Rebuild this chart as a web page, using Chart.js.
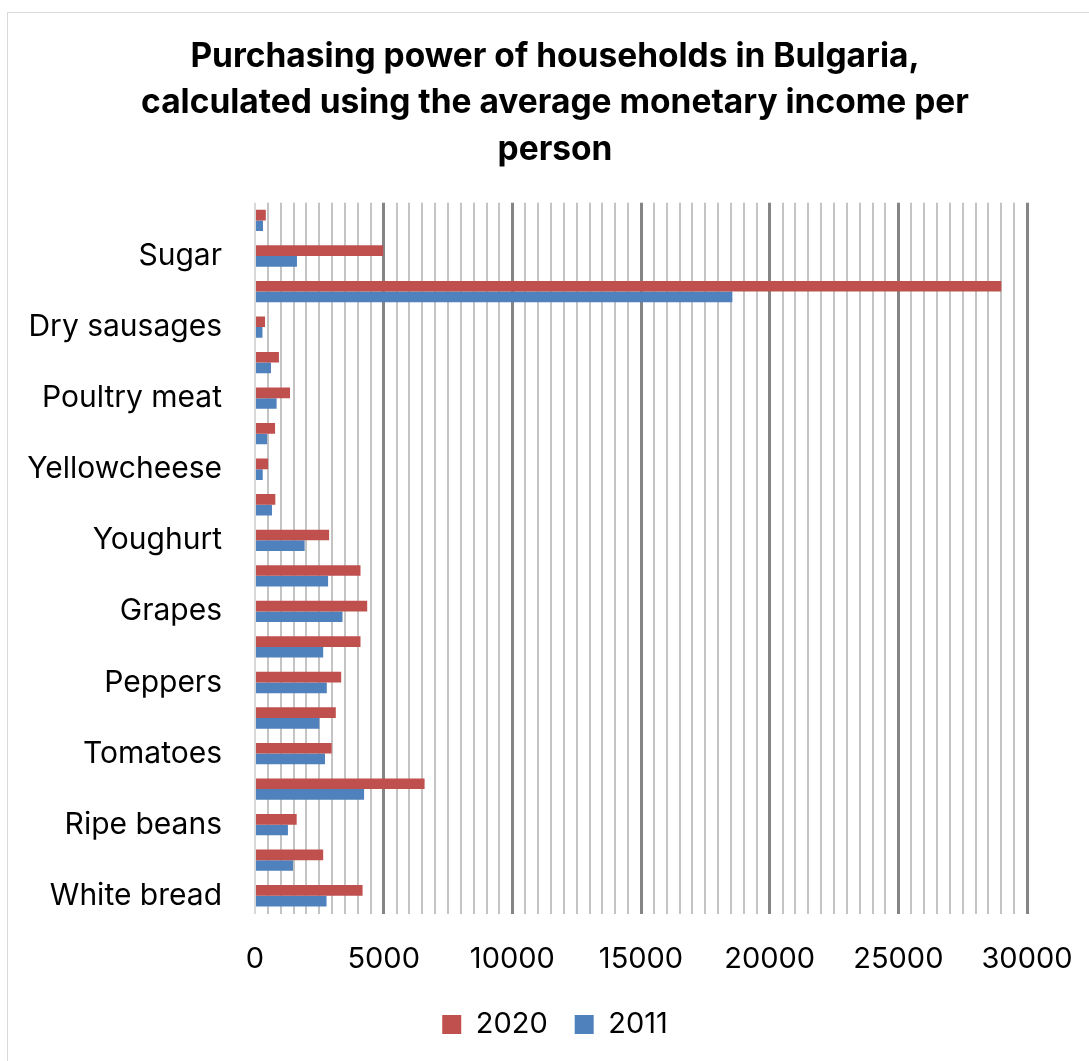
<!DOCTYPE html>
<html>
<head>
<meta charset="utf-8">
<script src="https://cdn.jsdelivr.net/npm/chart.js@4"></script>
<style>
  html, body { margin: 0; padding: 0; background: #fff; overflow: hidden; }
  #box {
    position: absolute;
    left: 7px;
    top: 12px;
    width: 1096px;
    height: 1052px;
    border: 1px solid #d9d9d9;
    background: #fff;
  }
  canvas { display: block; }
</style>
</head>
<body>
<div id="box"><canvas id="chart" width="1094" height="1050"></canvas></div>
<script>
// categories from bottom to top, every other one gets a visible label
const products = [
  "White bread", "Rice", "Ripe beans", "Potatoes", "Tomatoes",
  "Cucumbers", "Peppers", "Apples", "Grapes", "Fresh milk",
  "Youghurt", "White cheese", "Yellowcheese", "Pork", "Poultry meat",
  "Minced meat", "Dry sausages", "Eggs", "Sugar", "Coffee"
];
const values2020 = [
  4180, 2650, 1620, 6590, 2980,
  3140, 3350, 4100, 4360, 4100,
  2880, 790, 510, 780, 1360,
  930, 390, 29000, 4980, 420
];
const values2011 = [
  2780, 1480, 1280, 4240, 2720,
  2500, 2790, 2650, 3400, 2840,
  1930, 660, 300, 470, 840,
  620, 290, 18550, 1630, 310
];
const xTicks = [0, 5000, 10000, 15000, 20000, 25000, 30000];

const fontFamily = "Inter, 'Noto Sans', sans-serif";

const ctx = document.getElementById("chart").getContext("2d");

new Chart(ctx, {
  type: 'bar',
  data: {
    labels: products,
    datasets: [
      {
        label: "2020",
        data: values2020,
        backgroundColor: "#C0504D",
        barPercentage: 1,
        categoryPercentage: 0.6
      },
      {
        label: "2011",
        data: values2011,
        backgroundColor: "#4F81BD",
        barPercentage: 1,
        categoryPercentage: 0.6
      }
    ]
  },
  options: {
    indexAxis: 'y',
    responsive: false,
    animation: false,
    layout: {
      padding: { left: 0, right: 0, top: 0, bottom: 14 }
    },
    plugins: {
      title: {
        display: true,
        text: [
          "Purchasing power of households in Bulgaria,",
          "calculated using the average monetary income per",
          "person"
        ],
        color: "#000",
        font: { family: fontFamily, size: 33.5, weight: 'bold', lineHeight: 1.38 },
        padding: { top: 21, bottom: 30 }
      },
      legend: {
        position: 'bottom',
        labels: {
          color: "#000",
          font: { family: fontFamily, size: 29 },
          boxWidth: 19,
          boxHeight: 19,
          padding: 27
        }
      },
      tooltip: { enabled: false }
    },
    scales: {
      x: {
        min: 0,
        max: 30000,
        afterBuildTicks: scale => {
          const ticks = [];
          for (let v = 0; v <= 30000; v += 500) ticks.push({ value: v });
          scale.ticks = ticks;
        },
        afterFit: scale => { scale.height = 69.5; },
        border: { display: false },
        grid: {
          drawTicks: false,
          color: c => {
            const v = c.tick ? c.tick.value : 0;
            if (v === 0) return '#d9d9d9';
            return v % 5000 === 0 ? '#858585' : '#c4c4c4';
          },
          lineWidth: c => {
            const v = c.tick ? c.tick.value : 0;
            return v !== 0 && v % 5000 === 0 ? 3 : 2;
          }
        },
        ticks: {
          autoSkip: false,
          maxRotation: 0,
          padding: 28,
          color: "#000",
          font: { family: fontFamily, size: 29 },
          callback: value => xTicks.includes(value) ? String(value) : ''
        }
      },
      y: {
        reverse: true,
        afterFit: scale => { scale.width = 247; },
        border: { display: false },
        grid: { display: false, drawTicks: false },
        ticks: {
          autoSkip: false,
          padding: 33,
          color: "#000",
          font: { family: fontFamily, size: 30 },
          callback: function (value, index) {
            return index % 2 === 0 ? this.getLabelForValue(value) : '';
          }
        }
      },
      // empty right-hand axis, only keeps the blank strip right of the plot
      yRight: {
        axis: 'y',
        position: 'right',
        afterFit: scale => { scale.width = 75; },
        border: { display: false },
        grid: { display: false, drawTicks: false },
        ticks: { display: false }
      }
    }
  }
});
</script>
</body>
</html>
